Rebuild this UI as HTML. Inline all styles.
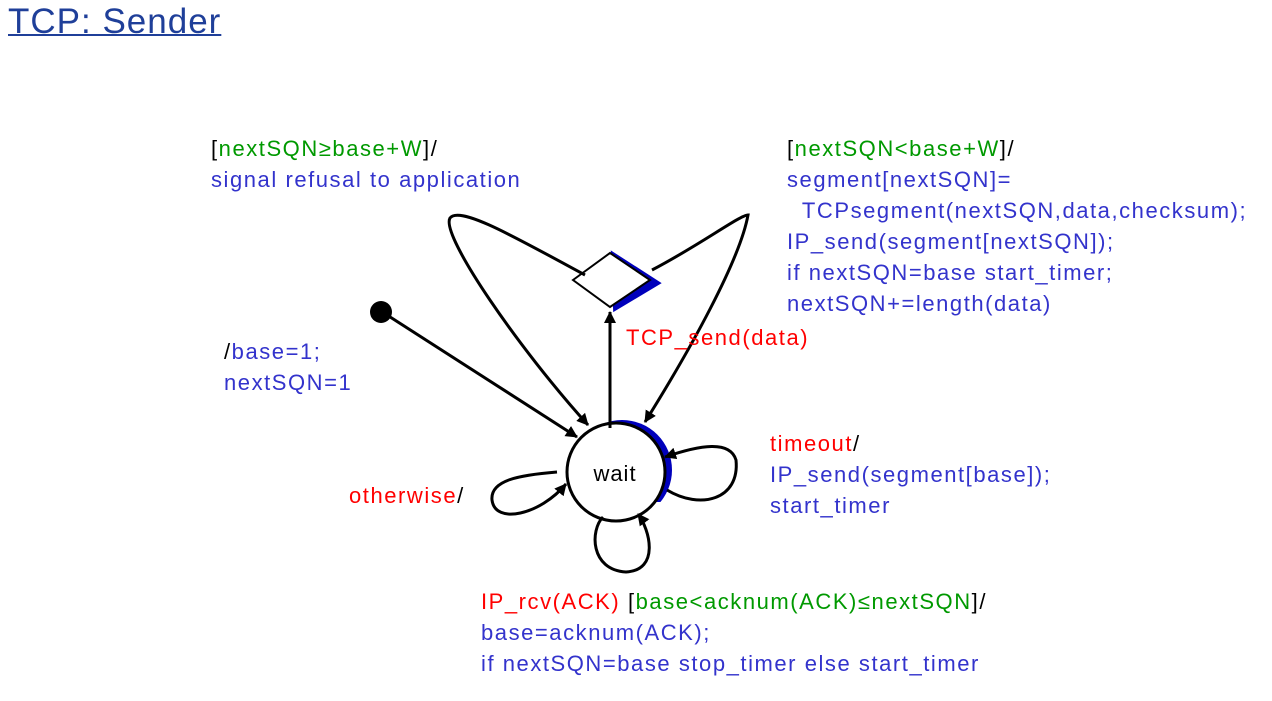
<!DOCTYPE html>
<html><head><meta charset="utf-8"><style>
body{margin:0;width:1272px;height:701px;background:#fff;overflow:hidden;position:relative;font-family:"Liberation Sans",sans-serif}
.t{position:absolute;font-size:22px;line-height:31px;white-space:pre;color:#3333cc;letter-spacing:1.55px}
.r{color:#ff0000}.g{color:#009900}.k{color:#000}
</style></head><body>
<div style="position:absolute;left:8px;top:2px;font-size:35px;letter-spacing:1px;color:#1f3f99;text-decoration:underline;text-decoration-thickness:2px">TCP: Sender</div>
<svg width="1272" height="701" style="position:absolute;left:0;top:0">
<defs><marker id="a" markerWidth="12" markerHeight="12" refX="11" refY="6" orient="auto" markerUnits="userSpaceOnUse"><path d="M0,0 L12,6 L0,12 Z" fill="#000"/></marker>
<clipPath id="c"><rect x="596" y="400" width="90" height="102"/></clipPath></defs>
<circle cx="622" cy="470" r="50" fill="#0000bb" clip-path="url(#c)"/>
<g fill="none" stroke="#000" stroke-width="3">
<polygon points="614,256 656,283 616,307" stroke="#0000bb" stroke-width="6" fill="#0000bb"/>
<circle cx="616" cy="472" r="49" fill="#fff"/>
<polygon points="573,280 610,253 650,280 610,307" fill="#fff" stroke-width="2"/>
<line x1="610" y1="428" x2="610" y2="312" marker-end="url(#a)"/>
<line x1="387" y1="315" x2="577" y2="437" marker-end="url(#a)"/>
<path d="M585,275 C520,240 460,205 450,218 C440,235 520,350 588,425" marker-end="url(#a)"/>
<path d="M652,270 C700,245 740,215 748,215 C740,260 690,350 645,422" marker-end="url(#a)"/>
<path d="M667,490 C700,510 740,500 736,460 C730,440 700,445 665,457" marker-end="url(#a)"/>
<path d="M557,472 C520,475 490,480 492,500 C495,525 540,515 566,484" marker-end="url(#a)"/>
<path d="M603,517 C590,530 590,570 626,572 C660,570 650,530 638,514" marker-end="url(#a)"/>
</g>
<circle cx="381" cy="312" r="11" fill="#000"/>
<text x="615" y="481" font-size="22" letter-spacing="1" text-anchor="middle" font-family="Liberation Sans,sans-serif">wait</text>
</svg>
<div class="t" style="left:211px;top:133px"><span class="k">[</span><span class="g">nextSQN≥base+W</span><span class="k">]/</span>
signal refusal to application</div>
<div class="t" style="left:787px;top:133px"><span class="k">[</span><span class="g">nextSQN&lt;base+W</span><span class="k">]/</span>
segment[nextSQN]=
  TCPsegment(nextSQN,data,checksum);
IP_send(segment[nextSQN]);
if nextSQN=base start_timer;
nextSQN+=length(data)</div>
<div class="t r" style="left:626px;top:322px">TCP_send(data)</div>
<div class="t" style="left:224px;top:336px"><span class="k">/</span>base=1;
nextSQN=1</div>
<div class="t" style="left:770px;top:428px"><span class="r">timeout</span><span class="k">/</span>
IP_send(segment[base]);
start_timer</div>
<div class="t" style="left:349px;top:480px"><span class="r">otherwise</span><span class="k">/</span></div>
<div class="t" style="left:481px;top:586px"><span class="r">IP_rcv(ACK)</span> <span class="k">[</span><span class="g">base&lt;acknum(ACK)≤nextSQN</span><span class="k">]/</span>
base=acknum(ACK);
if nextSQN=base stop_timer else start_timer</div>
</body></html>
